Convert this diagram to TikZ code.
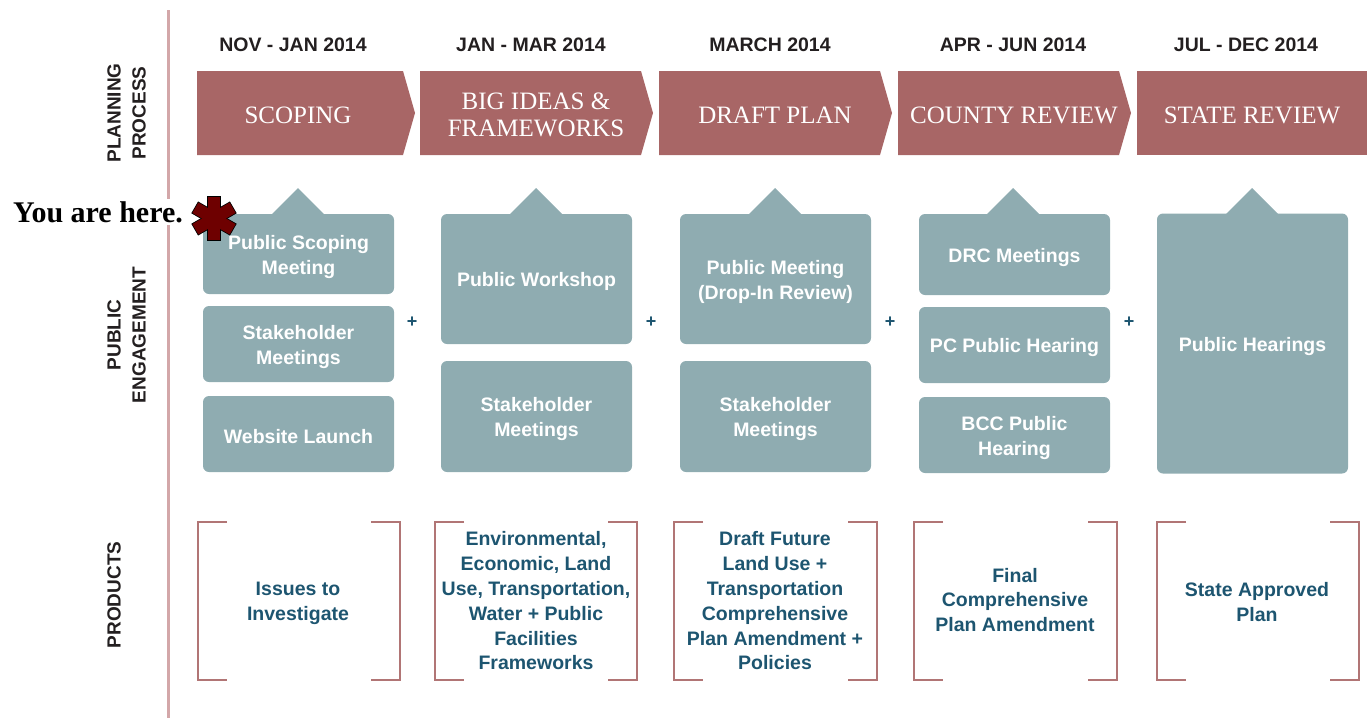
\documentclass[tikz,border=0pt]{standalone}
\usepackage{fontspec}
\setmainfont{Liberation Serif}
\setsansfont{Liberation Sans}

\definecolor{arrowred}{HTML}{A86666}
\definecolor{boxgray}{HTML}{8FACB1}
\definecolor{prodblue}{HTML}{1D5570}
\definecolor{linepink}{HTML}{D3A7A9}
\definecolor{darktext}{HTML}{231F20}
\definecolor{stardark}{HTML}{6E0000}

\tikzset{
  phase/.style={text=white, align=center, yshift=-1.5pt, font=\fontsize{25}{27}\selectfont},
  datelbl/.style={text=darktext, font=\sffamily\bfseries\fontsize{19.5}{25}\selectfont},
  engbox/.style={fill=boxgray, rounded corners=6pt, inner sep=0pt, minimum width=191pt},
  engtext/.style={text=white, align=center, yshift=-2.5pt, font=\sffamily\bfseries\fontsize{19.5}{25}\selectfont},
  callout/.style={fill=boxgray},
  prodtext/.style={text=prodblue, align=center, font=\sffamily\bfseries\fontsize{19.5}{24.8}\selectfont},
  rowlbl/.style={rotate=90, align=center, text=darktext, font=\sffamily\bfseries\fontsize{19}{25}\selectfont},
  bracketline/.style={arrowred!90!white, line width=1.6pt},
  plussign/.style={text=prodblue, font=\sffamily\bfseries\fontsize{18}{20}\selectfont},
}

\begin{document}
\begin{tikzpicture}[x=1pt, y=-1pt]
\useasboundingbox (0,0) rectangle (1367,718);

% side line and row labels
\draw[linepink, line width=3pt] (168,10) -- (168,718);
\node[rowlbl] (planning) at (126.5,113) {PLANNING\\PROCESS};
\node[rowlbl] (engagement) at (126.5,335) {PUBLIC\\ENGAGEMENT};
\node[rowlbl] (products) at (114,595) {PRODUCTS};

% dates
\node[datelbl] (d1) at (293,45) {NOV - JAN 2014};
\node[datelbl] (d2) at (531,45) {JAN - MAR 2014};
\node[datelbl] (d3) at (770,45) {MARCH 2014};
\node[datelbl] (d4) at (1013,45) {APR - JUN 2014};
\node[datelbl] (d5) at (1246,45) {JUL - DEC 2014};

% planning process arrows
\fill[arrowred] (197,71) -- (403,71) -- (415,113) -- (403,155) -- (197,155) -- cycle;
\fill[arrowred] (420,71) -- (641,71) -- (653,113) -- (641,155) -- (420,155) -- cycle;
\fill[arrowred] (659,71) -- (880,71) -- (892,113) -- (880,155) -- (659,155) -- cycle;
\fill[arrowred] (898,71) -- (1119,71) -- (1131,113) -- (1119,155) -- (898,155) -- cycle;
\fill[arrowred] (1137,71) -- (1367,71) -- (1367,155) -- (1137,155) -- cycle;
\node[phase] (scoping) at (298,114) {SCOPING};
\node[phase] (bigideas) at (536,113) {BIG IDEAS \&\\FRAMEWORKS};
\node[phase] (draftplan) at (775,114) {DRAFT PLAN};
\node[phase] (county) at (1014,114) {COUNTY REVIEW};
\node[phase] (state) at (1252,114) {STATE REVIEW};

% public engagement
\foreach \cx in {298,536,775,1013,1252}
  \fill[callout] (\cx-27,215) -- (\cx,188) -- (\cx+27,215) -- cycle;

\node[engbox, minimum height=80pt] (scopemtg) at (298.5,254) {};
\node[engbox, minimum height=76pt] (stake1) at (298.5,344) {};
\node[engbox, minimum height=76pt] (website) at (298.5,434) {};
\node[engtext] at (scopemtg) {Public Scoping\\Meeting};
\node[engtext] at (stake1) {Stakeholder\\Meetings};
\node[engtext] at (website) {Website Launch};

\node[engbox, minimum height=130pt] (workshop) at (536.5,279) {};
\node[engbox, minimum height=111pt] (stake2) at (536.5,416.5) {};
\node[engtext] at (workshop) {Public Workshop};
\node[engtext] at (stake2) {Stakeholder\\Meetings};

\node[engbox, minimum height=130pt] (dropin) at (775.5,279) {};
\node[engbox, minimum height=111pt] (stake3) at (775.5,416.5) {};
\node[engtext] at (dropin) {Public Meeting\\(Drop-In Review)};
\node[engtext] at (stake3) {Stakeholder\\Meetings};

\node[engbox, minimum height=81pt] (drc) at (1014.5,254.5) {};
\node[engbox, minimum height=76pt] (pc) at (1014.5,345) {};
\node[engbox, minimum height=76pt] (bcc) at (1014.5,435) {};
\node[engtext] at (drc) {DRC Meetings};
\node[engtext] at (pc) {PC Public Hearing};
\node[engtext] at (bcc) {BCC Public\\Hearing};

\node[engbox, minimum height=260pt] (hearings) at (1252.5,343.5) {};
\node[engtext] at (hearings) {Public Hearings};

\foreach \px in {412,651,890,1129}
  \node[plussign] at (\px,322) {+};

% you are here
\node[fill=white, inner sep=2pt, font=\bfseries\fontsize{30}{31}\selectfont] (here) at (98,212) {You are here.};
\coordinate (star) at (214,218.5);
\foreach \a in {0,60,120}
  \filldraw[fill=stardark, draw=black, line width=1.6pt, rotate around={\a:(star)}] (208,197) rectangle (220,240);
\foreach \a in {0,60,120}
  \fill[stardark, rotate around={\a:(star)}] (208,197) rectangle (220,240);

% products
\foreach \l/\r in {198/400, 435/637, 674/877, 914/1117, 1157/1359} {
  \draw[bracketline] (\l+29,522) -- (\l,522) -- (\l,680) -- (\l+29,680);
  \draw[bracketline] (\r-29,522) -- (\r,522) -- (\r,680) -- (\r-29,680);
}
\node[prodtext] (issues) at (298,603.5) {Issues to\\Investigate};
\node[prodtext] (frameworks) at (536,601) {Environmental,\\Economic, Land\\Use, Transportation,\\Water + Public\\Facilities\\Frameworks};
\node[prodtext] (draftlu) at (775,601) {Draft Future\\Land Use +\\Transportation\\Comprehensive\\Plan Amendment +\\Policies};
\node[prodtext] (final) at (1015,600) {Final\\Comprehensive\\Plan Amendment};
\node[prodtext] (approved) at (1257,602) {State Approved\\Plan};
\end{tikzpicture}
\end{document}
